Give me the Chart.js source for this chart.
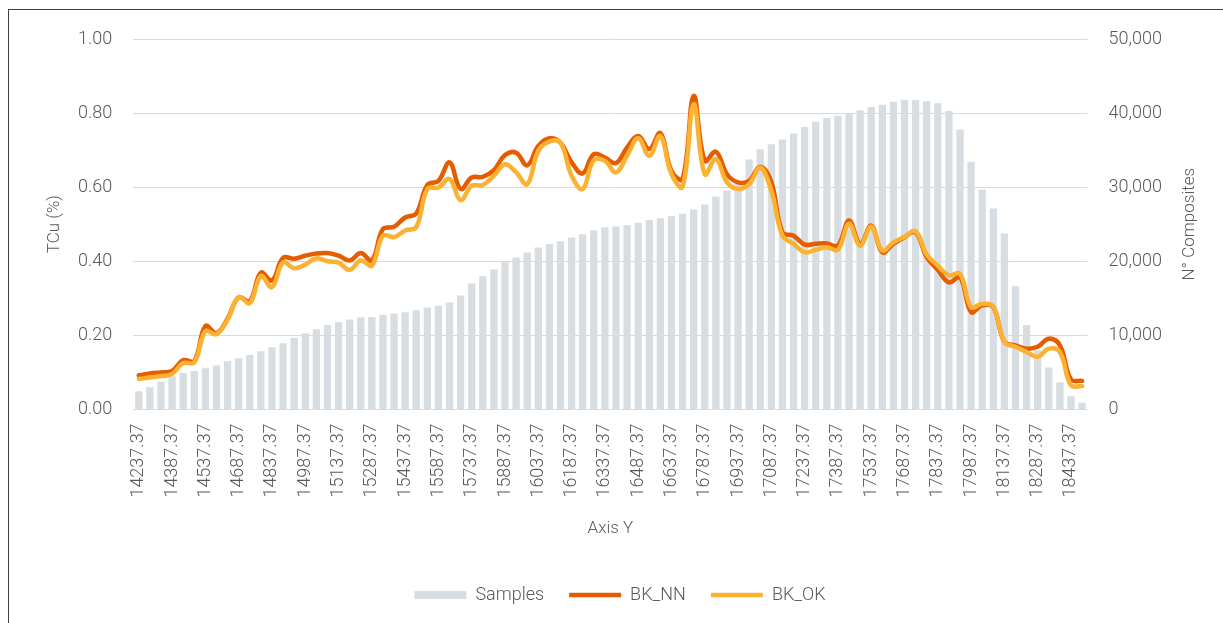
<!DOCTYPE html>
<html>
<head>
<meta charset="utf-8">
<script src="https://cdn.jsdelivr.net/npm/chart.js@4.4.1/dist/chart.umd.min.js"></script>
<style>
  html, body { margin: 0; padding: 0; background: #fff; }
  #wrap { position: relative; width: 1223px; height: 623px; }
  #frame { position: absolute; left: 8px; top: 9px; right: 0; bottom: 0; border-top: 1px solid #3f3f3f; border-left: 1px solid #3f3f3f; }
  canvas { position: absolute; left: 0; top: 0; }
</style>
</head>
<body>
<div id="wrap">
  <div id="frame"></div>
  <canvas id="chart" width="1223" height="623"></canvas>
</div>
<script>
// Y coordinate of each composite section
var axisY = [
  14237.37, 14287.37, 14337.37, 14387.37, 14437.37, 14487.37, 14537.37, 14587.37, 14637.37, 14687.37,
  14737.37, 14787.37, 14837.37, 14887.37, 14937.37, 14987.37, 15037.37, 15087.37, 15137.37, 15187.37,
  15237.37, 15287.37, 15337.37, 15387.37, 15437.37, 15487.37, 15537.37, 15587.37, 15637.37, 15687.37,
  15737.37, 15787.37, 15837.37, 15887.37, 15937.37, 15987.37, 16037.37, 16087.37, 16137.37, 16187.37,
  16237.37, 16287.37, 16337.37, 16387.37, 16437.37, 16487.37, 16537.37, 16587.37, 16637.37, 16687.37,
  16737.37, 16787.37, 16837.37, 16887.37, 16937.37, 16987.37, 17037.37, 17087.37, 17137.37, 17187.37,
  17237.37, 17287.37, 17337.37, 17387.37, 17437.37, 17487.37, 17537.37, 17587.37, 17637.37, 17687.37,
  17737.37, 17787.37, 17837.37, 17887.37, 17937.37, 17987.37, 18037.37, 18087.37, 18137.37, 18187.37,
  18237.37, 18287.37, 18337.37, 18387.37, 18437.37, 18487.37
];

// number of composites per section
var samples = [
  2460, 3000, 3720, 4480, 4930, 5200, 5560, 5920, 6500, 6900,
  7350, 7850, 8390, 8920, 9640, 10270, 10810, 11390, 11750, 12150,
  12420, 12480, 12790, 12960, 13100, 13370, 13770, 14000, 14440, 15380,
  17000, 17980, 18880, 19870, 20500, 21170, 21840, 22340, 22690, 23190,
  23630, 24170, 24580, 24700, 24850, 25210, 25570, 25790, 26060, 26420,
  27000, 27670, 28750, 29560, 30500, 33730, 35130, 35800, 36420, 37230,
  38130, 38840, 39340, 39650, 39950, 40370, 40820, 41130, 41530, 41800,
  41760, 41590, 41320, 40280, 37770, 33420, 29690, 27130, 23730, 16630,
  11390, 8000, 5650, 3670, 1790, 890
];

// mean TCu, nearest neighbour model
var bkNN = [
  0.092, 0.097, 0.100, 0.104, 0.133, 0.130, 0.225, 0.206, 0.245, 0.303,
  0.292, 0.369, 0.348, 0.409, 0.407, 0.415, 0.421, 0.422, 0.415, 0.402,
  0.422, 0.402, 0.487, 0.493, 0.518, 0.529, 0.606, 0.617, 0.667, 0.595,
  0.626, 0.628, 0.646, 0.687, 0.693, 0.659, 0.711, 0.732, 0.720, 0.667,
  0.637, 0.689, 0.680, 0.665, 0.707, 0.738, 0.703, 0.746, 0.644, 0.622,
  0.846, 0.671, 0.696, 0.635, 0.613, 0.617, 0.655, 0.613, 0.478, 0.469,
  0.445, 0.447, 0.448, 0.442, 0.510, 0.447, 0.496, 0.424, 0.447, 0.465,
  0.478, 0.411, 0.377, 0.343, 0.357, 0.263, 0.281, 0.276, 0.182, 0.173,
  0.164, 0.169, 0.191, 0.173, 0.081, 0.077
];

// mean TCu, ordinary kriging model
var bkOK = [
  0.082, 0.086, 0.090, 0.096, 0.125, 0.127, 0.211, 0.203, 0.242, 0.303,
  0.287, 0.360, 0.330, 0.397, 0.381, 0.391, 0.408, 0.400, 0.396, 0.377,
  0.402, 0.388, 0.469, 0.465, 0.483, 0.492, 0.595, 0.599, 0.622, 0.565,
  0.604, 0.606, 0.631, 0.662, 0.640, 0.608, 0.698, 0.723, 0.720, 0.631,
  0.595, 0.673, 0.671, 0.640, 0.685, 0.732, 0.685, 0.738, 0.635, 0.601,
  0.824, 0.635, 0.676, 0.613, 0.595, 0.608, 0.653, 0.590, 0.469, 0.447,
  0.424, 0.431, 0.438, 0.431, 0.501, 0.442, 0.493, 0.429, 0.451, 0.466,
  0.481, 0.418, 0.388, 0.362, 0.366, 0.276, 0.285, 0.278, 0.182, 0.169,
  0.155, 0.142, 0.164, 0.155, 0.065, 0.063
];

var textColor = '#595959';
var gridColor = '#d9d9d9';
var fontFamily = 'Roboto, "Liberation Sans", sans-serif';
Chart.defaults.font.family = fontFamily;
Chart.defaults.font.weight = '300';
Chart.defaults.color = textColor;

// both value-axis titles read bottom to top, so draw them by hand
var axisTitles = {
  id: 'axisTitles',
  afterDraw: function (chart) {
    var c = chart.ctx;
    var area = chart.chartArea;
    var midY = (area.top + area.bottom) / 2;
    c.save();
    c.fillStyle = textColor;
    c.font = '300 17px ' + fontFamily;
    c.textAlign = 'center';
    c.textBaseline = 'middle';
    [['TCu (%)', 55], ['N° Composites', 1190]].forEach(function (t) {
      c.save();
      c.translate(t[1], midY);
      c.rotate(-Math.PI / 2);
      c.fillText(t[0], 0, 0);
      c.restore();
    });
    c.restore();
  }
};

var ctx = document.getElementById('chart').getContext('2d');
var chart = new Chart(ctx, {
  type: 'bar',
  data: {
    labels: axisY.map(function (v) { return v.toFixed(2); }),
    datasets: [
      {
        type: 'bar',
        label: 'Samples',
        data: samples,
        yAxisID: 'y2',
        backgroundColor: '#d7dde1',
        borderWidth: 0,
        categoryPercentage: 1,
        barPercentage: 0.66,
        pointStyle: 'rect',
        order: 2
      },
      {
        type: 'line',
        label: 'BK_NN',
        data: bkNN,
        yAxisID: 'y',
        borderColor: '#e65c00',
        backgroundColor: '#e65c00',
        borderWidth: 4.5,
        borderCapStyle: 'round',
        tension: 0.4,
        pointRadius: 0,
        pointStyle: 'line',
        order: 1
      },
      {
        type: 'line',
        label: 'BK_OK',
        data: bkOK,
        yAxisID: 'y',
        borderColor: '#fbb131',
        backgroundColor: '#fbb131',
        borderWidth: 4.5,
        borderCapStyle: 'round',
        tension: 0.4,
        pointRadius: 0,
        pointStyle: 'line',
        order: 0
      }
    ]
  },
  plugins: [axisTitles],
  options: {
    responsive: false,
    animation: false,
    layout: { padding: { left: 57, right: 40, top: 39, bottom: 9 } },
    plugins: {
      tooltip: { enabled: false },
      legend: {
        position: 'bottom',
        labels: {
          usePointStyle: true,
          pointStyleWidth: 52,
          boxHeight: 8,
          padding: 25,
          color: textColor,
          font: { size: 18 },
          sort: function (a, b) { return a.datasetIndex - b.datasetIndex; }
        }
      }
    },
    scales: {
      x: {
        grid: { display: false },
        border: { display: false },
        ticks: {
          autoSkip: false,
          minRotation: 90,
          maxRotation: 90,
          padding: 6,
          color: textColor,
          font: { size: 18 },
          callback: function (val, idx) {
            return idx % 3 === 0 ? this.getLabelForValue(val) : '';
          }
        },
        title: {
          display: true,
          text: 'Axis Y',
          color: textColor,
          font: { size: 17 },
          padding: { top: 15, bottom: 22 }
        }
      },
      y: {
        position: 'left',
        min: 0,
        max: 1,
        grid: { color: gridColor, lineWidth: 1, drawTicks: false },
        border: { display: false },
        ticks: {
          stepSize: 0.2,
          padding: 21,
          color: textColor,
          font: { size: 18 },
          callback: function (v) { return v.toFixed(2); }
        }
      },
      y2: {
        position: 'right',
        min: 0,
        max: 50000,
        grid: { drawOnChartArea: false, drawTicks: false },
        border: { display: false },
        ticks: {
          stepSize: 10000,
          padding: 21,
          color: textColor,
          font: { size: 18 },
          callback: function (v) { return v.toLocaleString('en-US'); }
        }
      }
    }
  }
});
</script>
</body>
</html>
